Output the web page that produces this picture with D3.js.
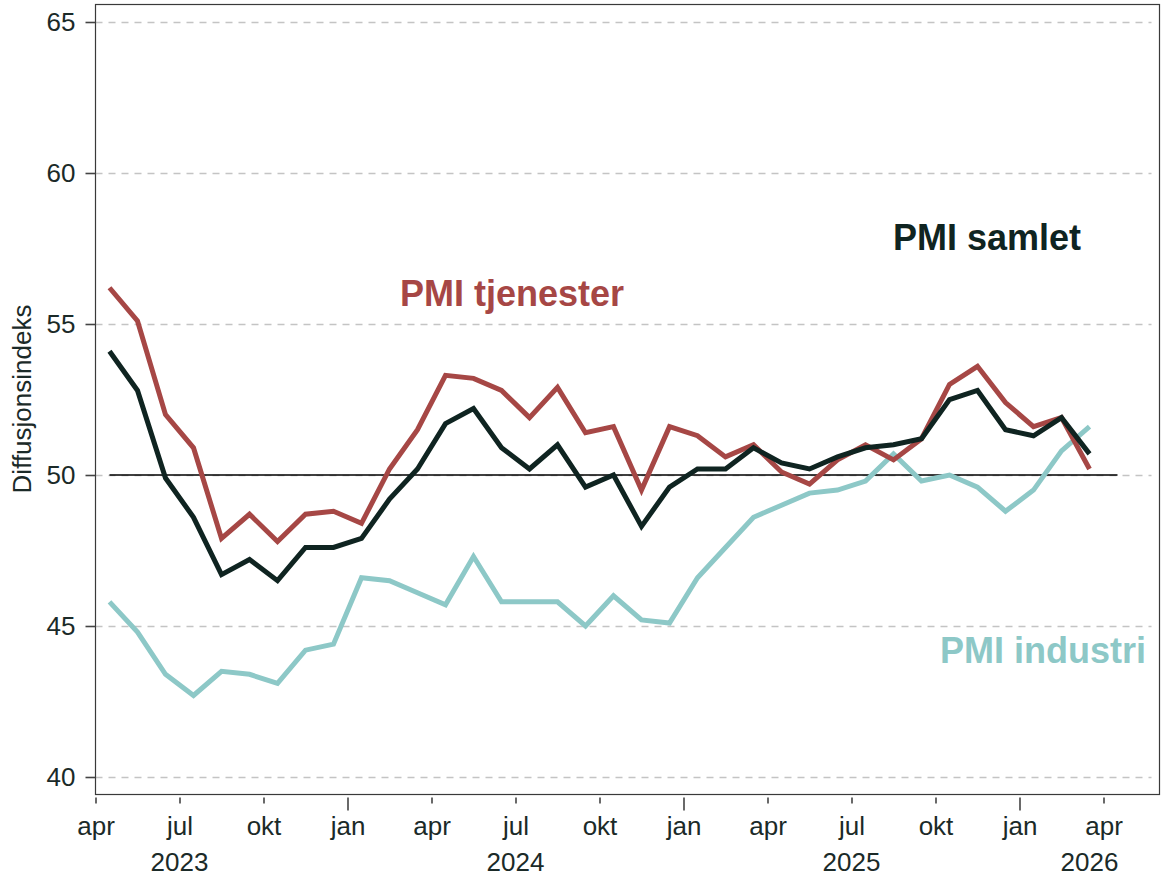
<!DOCTYPE html>
<html>
<head>
<meta charset="utf-8">
<script src="https://cdn.jsdelivr.net/npm/d3@7"></script>
<style>
  html, body { margin: 0; padding: 0; background: #ffffff; }
  svg { display: block; font-family: "Liberation Sans", Arial, sans-serif; }
</style>
</head>
<body>
<svg id="chart" width="1173" height="876"></svg>
<script>
// Monthly observations, Apr 2023 .. Mar 2026 (36 months)
const startMonth = "2023-04";
const samlet = [54.1, 52.8, 49.9, 48.6, 46.7, 47.2, 46.5, 47.6, 47.6, 47.9, 49.2, 50.2,
                51.7, 52.2, 50.9, 50.2, 51.0, 49.6, 50.0, 48.3, 49.6, 50.2, 50.2, 50.9,
                50.4, 50.2, 50.6, 50.9, 51.0, 51.2, 52.5, 52.8, 51.5, 51.3, 51.9, 50.7];
const tjenester = [56.2, 55.1, 52.0, 50.9, 47.9, 48.7, 47.8, 48.7, 48.8, 48.4, 50.2, 51.5,
                   53.3, 53.2, 52.8, 51.9, 52.9, 51.4, 51.6, 49.5, 51.6, 51.3, 50.6, 51.0,
                   50.1, 49.7, 50.5, 51.0, 50.5, 51.2, 53.0, 53.6, 52.4, 51.6, 51.9, 50.2];
const industri = [45.8, 44.8, 43.4, 42.7, 43.5, 43.4, 43.1, 44.2, 44.4, 46.6, 46.5, 46.1,
                  45.7, 47.3, 45.8, 45.8, 45.8, 45.0, 46.0, 45.2, 45.1, 46.6, 47.6, 48.6,
                  49.0, 49.4, 49.5, 49.8, 50.7, 49.8, 50.0, 49.6, 48.8, 49.5, 50.8, 51.6];
const seriesNames = ["PMI samlet", "PMI tjenester", "PMI industri"];
const referenceLevel = 50;
const yTicks = [40, 45, 50, 55, 60, 65];
const monthTickLabels = ["apr", "jul", "okt", "jan", "apr", "jul", "okt", "jan", "apr", "jul", "okt", "jan", "apr"];
const yearLabels = ["2023", "2024", "2025", "2026"];
const yearLabelMonth = [3, 15, 27, 35.5];
const yTitle = "Diffusjonsindeks";

const colors = { samlet: "#0f2421", tjenester: "#a64745", industri: "#8dc8c7", text: "#1b2a28" };

const svg = d3.select("#chart");
const box = { left: 95.5, right: 1159.5, top: 4.5, bottom: 794.5 };

const x = d3.scaleLinear().domain([0, 38]).range([box.left, box.right]);
const y = d3.scaleLinear().domain([40, 65]).range([777, 22]);

// grid lines
svg.append("g").selectAll("line").data(yTicks).join("line")
  .attr("x1", box.left).attr("x2", box.right - 8)
  .attr("y1", d => Math.round(y(d)) + 0.5).attr("y2", d => Math.round(y(d)) + 0.5)
  .attr("stroke", "#c4c4c4").attr("stroke-width", 1.6).attr("stroke-dasharray", "7,6");

// frame
svg.append("rect")
  .attr("x", box.left).attr("y", box.top)
  .attr("width", box.right - box.left).attr("height", box.bottom - box.top)
  .attr("fill", "none").attr("stroke", "#3a3a3a").attr("stroke-width", 1.2);

// y axis
const yAxis = d3.axisLeft(y).tickValues(yTicks).tickSize(10).tickPadding(10).tickFormat(d3.format("d"));
const gy = svg.append("g").attr("transform", `translate(${box.left},0)`).call(yAxis);
gy.select(".domain").remove();
gy.selectAll(".tick line").attr("stroke", "#444").attr("stroke-width", 1.6);
gy.selectAll(".tick text").attr("font-size", 26).attr("fill", colors.text)
  .attr("font-family", "Liberation Sans, Arial, sans-serif");

// x axis
const monthTicks = d3.range(0, 37, 3);
const xAxis = d3.axisBottom(x).tickValues(monthTicks).tickSize(0).tickPadding(0)
  .tickFormat((d, i) => monthTickLabels[i]);
const gx = svg.append("g").attr("transform", `translate(0,${box.bottom})`).call(xAxis);
gx.select(".domain").remove();
gx.selectAll(".tick text").attr("font-size", 26).attr("fill", colors.text)
  .attr("font-family", "Liberation Sans, Arial, sans-serif")
  .attr("dy", null).attr("y", 40);
gx.selectAll(".tick").append("line")
  .attr("y1", 3).attr("y2", (d, i) => (monthTickLabels[i] === "jan" ? 16 : 9))
  .attr("stroke", "#444").attr("stroke-width", 1.6);

// year labels
svg.append("g").selectAll("text").data(yearLabels).join("text")
  .attr("x", (d, i) => x(yearLabelMonth[i])).attr("y", 871)
  .attr("text-anchor", "middle").attr("font-size", 26).attr("fill", colors.text)
  .text(d => d);

// y title
svg.append("text")
  .attr("transform", `translate(31,399) rotate(-90)`)
  .attr("text-anchor", "middle").attr("font-size", 26).attr("fill", colors.text)
  .text(yTitle);

// reference line
svg.append("line")
  .attr("x1", x(0.5)).attr("x2", x(36.5))
  .attr("y1", y(referenceLevel)).attr("y2", y(referenceLevel))
  .attr("stroke", "#000").attr("stroke-width", 1.6);

// series
const line = d3.line().x((d, i) => x(i + 0.5)).y(d => y(d));
const seriesData = [
  { values: industri, color: colors.industri },
  { values: tjenester, color: colors.tjenester },
  { values: samlet, color: colors.samlet }
];
svg.append("g").selectAll("path").data(seriesData).join("path")
  .attr("d", d => line(d.values))
  .attr("fill", "none").attr("stroke", d => d.color)
  .attr("stroke-width", 5).attr("stroke-linejoin", "miter").attr("stroke-linecap", "butt");

// series labels
const labels = [
  { text: seriesNames[0], color: colors.samlet, x: 893, y: 250 },
  { text: seriesNames[1], color: colors.tjenester, x: 400, y: 306 },
  { text: seriesNames[2], color: colors.industri, x: 940, y: 663 }
];
svg.append("g").selectAll("text").data(labels).join("text")
  .attr("x", d => d.x).attr("y", d => d.y)
  .attr("font-size", 36).attr("font-weight", "bold").attr("fill", d => d.color)
  .text(d => d.text);
</script>
</body>
</html>
